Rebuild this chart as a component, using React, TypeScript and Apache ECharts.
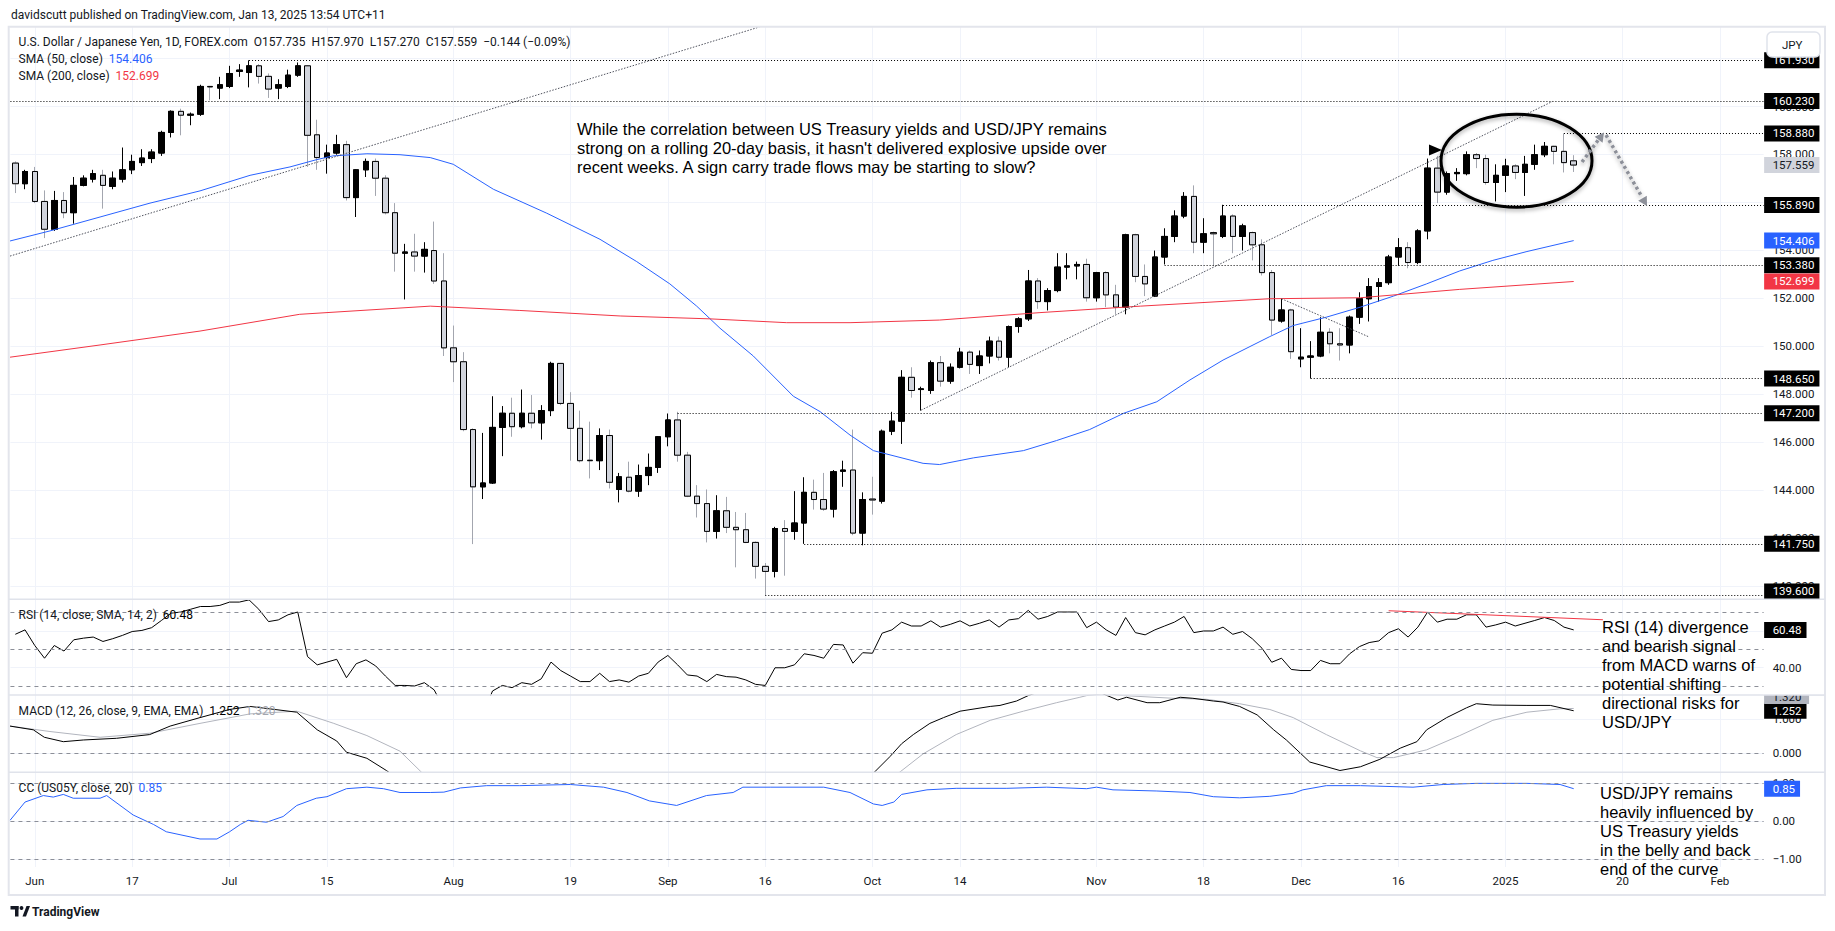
import React, { useEffect, useRef } from 'react';
import * as echarts from 'echarts';

// ---------- data ----------
const X_MIN = -0.5;
const X_MAX = 179.5;

const timeLabelIndex = [2, 12, 22, 32, 45, 57, 67, 77, 88, 97, 111, 122, 132, 142, 153, 165, 175];
const timeLabelText = ['Jun', '17', 'Jul', '15', 'Aug', '19', 'Sep', '16', 'Oct', '14', 'Nov', '18', 'Dec', '16', '2025', '20', 'Feb'];

const priceTicks = [140, 142, 144, 146, 148, 150, 152, 154, 156, 158, 160, 162];
const priceTickLabels = [140, 142, 144, 146, 148, 150, 152, 154, 158, 160];
const rsiTicks = [40, 60];
const rsiTickLabels = [40];
const macdTicks = [0, 1];
const ccTicks = [-1, 0, 1];

const opens = [157.64,156.78,157.29,156.04,154.88,156.08,155.57,156.71,156.97,157.13,156.67,156.97,157.36,157.66,157.83,158.06,158.92,159.80,159.64,159.68,160.84,160.77,160.84,161.47,161.42,161.70,161.26,160.77,160.84,161.31,161.70,158.82,157.87,158.06,158.41,156.20,157.36,157.71,157.01,155.57,153.88,153.93,153.76,153.99,152.72,149.93,149.35,146.52,144.13,144.29,146.61,147.20,146.64,147.20,146.80,147.31,149.28,147.61,146.57,145.24,145.22,146.27,144.02,144.53,143.95,144.60,144.94,146.22,146.92,145.45,143.74,143.43,142.27,143.13,142.44,142.34,141.81,140.81,140.60,142.39,142.27,142.62,143.90,143.60,143.20,144.78,144.83,142.20,143.62,143.53,146.45,146.87,148.70,148.19,148.15,149.31,148.54,149.12,149.75,149.19,149.59,150.21,149.54,150.82,151.14,152.72,151.86,152.32,153.30,153.35,153.41,152.02,153.07,152.14,151.63,154.65,152.91,152.09,153.72,154.58,155.43,156.25,154.34,154.74,154.58,155.43,154.58,154.74,154.23,153.07,151.05,151.51,149.47,149.54,149.59,150.58,150.10,150.05,151.21,151.98,152.49,152.65,153.72,154.11,153.49,154.81,157.43,156.43,157.20,157.20,157.99,157.83,156.83,157.13,157.52,157.25,157.59,157.99,158.34,158.13,157.735];
const highs = [157.71,157.36,157.48,156.50,156.48,156.43,157.06,157.13,157.36,157.36,157.29,158.29,157.99,158.22,158.22,158.99,159.84,159.91,159.75,160.91,160.86,161.24,161.70,161.77,161.93,161.77,161.38,161.14,161.54,161.84,161.72,159.45,158.41,158.82,158.57,157.38,157.83,157.83,157.13,155.97,154.27,154.69,154.34,155.20,153.88,150.86,149.75,146.57,146.38,147.91,147.50,147.85,148.19,147.96,147.54,149.35,149.30,148.08,147.31,146.85,146.57,146.52,144.71,145.18,145.06,145.52,146.25,147.19,147.26,145.59,144.20,144.02,143.78,143.71,143.08,143.04,141.85,140.95,142.46,142.74,143.95,144.53,144.43,144.71,144.83,145.22,146.52,143.90,144.55,146.52,147.26,149.00,149.12,148.31,149.40,149.59,149.28,149.93,149.82,149.82,150.40,150.40,150.86,151.21,153.18,152.84,152.42,153.88,153.88,153.53,153.65,153.10,153.12,152.56,154.69,154.69,153.41,153.99,154.92,155.67,156.43,156.71,155.34,154.78,155.90,155.50,155.11,154.78,154.46,153.18,151.98,151.56,150.75,150.21,151.21,150.75,150.75,151.28,152.25,152.84,152.84,153.81,154.51,154.34,154.88,157.83,157.94,157.29,157.43,158.13,158.06,157.99,157.59,157.82,157.59,157.94,158.41,158.52,158.36,158.88,157.970];
const lows = [156.39,156.55,155.97,154.51,154.81,155.34,155.11,156.67,156.83,155.74,156.55,156.83,157.18,157.52,157.64,157.94,158.71,158.80,159.22,159.61,160.26,160.31,160.77,161.24,160.80,160.96,160.36,160.31,160.77,161.24,157.48,157.36,157.20,157.99,156.08,155.39,157.06,156.27,155.50,153.11,151.95,153.11,153.07,152.60,149.59,148.50,146.45,141.74,143.62,144.25,145.41,146.22,146.57,146.57,146.10,147.08,147.54,145.22,145.15,144.48,144.83,144.06,143.48,143.90,143.71,144.20,144.71,145.82,145.18,143.70,142.85,141.81,141.97,142.20,140.77,141.78,140.30,139.60,140.35,140.42,141.92,141.75,143.18,143.13,142.85,144.13,142.11,141.69,142.97,143.43,146.29,145.92,147.85,147.31,148.01,148.31,148.43,149.07,148.84,148.84,149.28,149.40,149.12,150.56,151.05,151.56,151.49,152.25,152.79,152.79,151.86,151.86,151.63,151.33,151.33,152.67,152.09,152.05,153.41,154.34,155.34,153.88,153.88,153.35,154.51,153.88,153.99,153.58,152.95,150.47,150.98,149.47,149.12,148.65,149.54,149.70,149.40,149.70,150.93,151.03,151.86,152.56,153.35,153.25,153.42,154.46,155.97,156.32,156.90,157.13,157.43,156.74,156.04,156.43,156.97,156.27,157.36,157.89,157.59,157.25,157.270];
const closes = [156.78,157.29,156.04,154.88,156.08,155.57,156.71,157.01,157.20,156.71,157.01,157.36,157.71,157.85,158.10,158.92,159.80,159.64,159.68,160.84,160.82,160.91,161.38,161.52,161.70,161.26,160.73,160.91,161.31,161.70,158.80,157.87,158.06,158.41,156.20,157.36,157.71,157.01,155.57,153.88,153.93,153.76,154.04,152.72,149.93,149.35,146.52,144.13,144.29,146.61,147.20,146.64,147.20,146.80,147.31,149.28,147.61,146.57,145.22,145.22,146.27,144.32,144.55,143.95,144.60,144.94,146.22,146.92,145.45,143.74,143.43,142.27,143.13,142.44,142.34,141.81,140.81,140.60,142.39,142.27,142.62,143.90,143.60,143.20,144.76,144.83,142.20,143.60,143.58,146.45,146.87,148.70,148.15,148.22,149.31,148.54,149.12,149.75,149.24,149.59,150.21,149.54,150.82,151.14,152.72,151.86,152.32,153.30,153.35,153.41,152.02,153.07,152.14,151.63,154.65,152.91,152.60,153.72,154.58,155.43,156.25,154.34,154.69,154.69,155.43,154.58,155.02,154.23,153.07,151.09,151.51,149.77,149.54,149.59,150.58,150.10,150.05,151.21,151.98,152.49,152.65,153.72,154.11,153.49,154.81,157.43,156.43,157.20,157.25,157.99,157.83,156.83,157.13,157.52,157.25,157.59,157.99,158.34,158.13,157.66,157.559];

const sma50Points = [[-0.54,154.39],[3.56,154.81],[8.7,155.39],[13.83,155.97],[18.96,156.48],[24.1,157.13],[28.2,157.48],[30.9,157.78],[32.6,157.94],[36.1,158.03],[39.5,157.99],[42.6,157.87],[44.97,157.59],[49.08,156.55],[54.56,155.55],[60.03,154.46],[63.8,153.53],[67.2,152.6],[69.96,151.67],[72.35,150.75],[75.77,149.59],[79.88,147.91],[82.62,147.27],[85.7,146.29],[88.1,145.64],[93.2,145.11],[94.9,145.06],[98.4,145.34],[103.5,145.64],[106.9,146.06],[110.3,146.52],[113.8,147.2],[117.2,147.68],[120.6,148.59],[124,149.42],[128.8,150.4],[131.2,150.86],[134.6,151.21],[138.1,151.63],[141.5,152.09],[144.9,152.6],[148.3,153.14],[151.7,153.58],[155.2,153.95],[160,154.406]];
const sma200Points = [[-0.54,149.54],[8.7,150.05],[18.96,150.63],[29.2,151.33],[42.6,151.67],[51.8,151.49],[62.1,151.26],[71.3,151.14],[79.2,150.98],[85.7,150.98],[94.9,151.09],[105.2,151.4],[115.5,151.67],[128.8,151.98],[138.1,152.02],[148.3,152.37],[160,152.699]];

const rsiValues = [58.1,60.5,52.0,45.1,52.0,49.0,55.1,56.0,56.6,54.2,55.7,57.5,59.6,60.2,61.7,65.6,69.6,70.2,71.7,73.2,73.2,73.8,75.6,75.6,76.8,71.7,65.0,65.9,68.7,70.2,46.0,41.5,43.0,44.5,34.5,42.1,44.2,40.9,35.4,30.3,30.3,30.0,31.8,27.9,18,17,14,12,15,27.3,30.3,29.1,31.8,30.9,33.9,43.0,38.4,35.4,32.4,32.4,36.9,32.4,33.3,32.1,35.4,36.9,43.0,46.6,41.5,36.0,35.4,32.4,36.3,35.1,34.8,33.3,30.9,30.3,39.9,39.9,41.5,47.5,46.6,45.1,52.6,52.3,42.4,48.1,47.8,58.7,60.5,64.7,62.6,62.6,65.4,62.0,63.5,65.4,62.6,64.1,65.9,62.0,65.9,66.6,71.1,66.3,67.8,70.2,70.2,70.2,61.7,64.7,60.5,57.5,67.2,59.0,57.8,60.5,62.6,64.7,67.8,59.0,59.9,59.9,62.0,58.1,59.6,55.7,50.5,42.9,45.1,39.0,38.4,38.4,43.9,42.1,42.1,47.5,51.4,53.6,54.5,59.0,61.1,56.6,62.0,70.2,64.7,66.3,66.3,68.7,68.7,62.0,63.2,64.7,62.6,64.1,65.6,67.2,65.6,62.0,60.48];
const rsiDivergence = [[141, 70.9], [163, 66.0]];

const macdPoints = [[-0.54,0.8],[1.85,0.69],[2.98,0.47],[4.93,0.34],[6.98,0.39],[10.4,0.44],[13.8,0.55],[15.9,0.8],[18.96,1.05],[22,1.29],[24.1,1.38],[25.8,1.32],[28.9,1.21],[31,0.69],[33,0.36],[34,0.03],[36.1,-0.15],[38.1,-0.51],[40,-0.9],[44,-1.6],[48,-2.2],[55,-2.0],[65,-1.6],[75,-1.4],[82,-1.2],[86,-0.85],[88.2,-0.56],[89.8,-0.1],[91,0.28],[92.2,0.55],[93.9,0.88],[95.3,1.05],[97,1.24],[100.1,1.38],[101.1,1.41],[102.8,1.54],[104,1.7],[106,1.9],[110,1.95],[112.1,1.7],[113.2,1.57],[114.1,1.65],[116.2,1.49],[117.5,1.49],[119.6,1.65],[120.9,1.62],[123,1.54],[124,1.51],[125.7,1.38],[127.5,1.13],[129.2,0.69],[130.5,0.39],[132.9,-0.26],[136,-0.51],[138.1,-0.4],[140.1,-0.18],[142.2,0.15],[143.9,0.34],[144.9,0.69],[146.96,1.05],[149,1.34],[150,1.46],[151.7,1.42],[155.2,1.41],[157.6,1.41],[160,1.252]];
const signalPoints = [[-0.54,0.8],[3.56,0.64],[8.7,0.47],[13.83,0.59],[18.96,0.88],[24.1,1.16],[28.9,1.24],[32.7,0.88],[36.1,0.52],[39.5,0.06],[41.7,-0.56],[45,-1.0],[52,-1.6],[60,-1.8],[70,-1.6],[80,-1.3],[87,-0.95],[90.8,-0.56],[93.2,-0.02],[96.6,0.55],[100.1,0.97],[103.5,1.24],[106.9,1.49],[109.3,1.65],[110,1.7],[112,1.76],[113.8,1.7],[118.9,1.62],[122.3,1.59],[125.7,1.46],[128.8,1.29],[131.2,1.05],[134.6,0.55],[138.1,0.07],[139.8,-0.13],[141.5,-0.13],[144.9,0.1],[148.3,0.52],[151.7,0.97],[155.2,1.21],[158.6,1.31],[160,1.32]];
const ccPoints = [[-0.54,0.02],[1,0.5],[2.88,0.67],[3.9,0.63],[4.93,0.7],[5.95,0.6],[8.7,0.6],[9.38,0.67],[12.1,0.16],[14.2,-0.09],[15.5,-0.28],[18.96,-0.47],[20.7,-0.47],[22,-0.28],[23.1,-0.09],[23.9,0.02],[25.8,-0.03],[27.5,0.12],[28.9,0.41],[30.9,0.6],[32,0.64],[34,0.85],[36.1,0.89],[37.8,0.85],[39.5,0.75],[42.6,0.75],[44,0.76],[45.7,0.87],[48.4,0.93],[51.8,0.93],[57,0.96],[60.4,0.89],[62.8,0.75],[65.1,0.53],[67.9,0.41],[70.96,0.67],[73.7,0.75],[74.7,0.89],[77.5,0.89],[83,0.89],[85.7,0.75],[88.1,0.45],[89,0.41],[90.2,0.5],[91,0.7],[93.6,0.82],[96.6,0.86],[101.8,0.86],[105.9,0.89],[110,0.85],[111,0.89],[112.7,0.82],[117.2,0.79],[120.6,0.75],[123,0.64],[125.7,0.61],[128.8,0.65],[131.2,0.73],[132.2,0.82],[134.6,0.93],[138.1,0.93],[143.5,0.89],[146.6,0.96],[150,0.99],[155.2,0.99],[158.6,0.96],[160,0.85]];

const levelPrices = [161.93, 160.23, 158.88, 155.89, 153.38, 148.65, 147.2, 141.75, 139.6];
const levelStarts = [24, -0.5, 159, 124, 118, 133, 68, 81, 77];

const trendLineA = [[-0.54, 153.76], [76.4, 163.32]];
const trendLineB = [[93, 147.33], [157.8, 160.21]];
const trendLineC = [[130, 151.98], [138.9, 150.4]];

// ---------- style ----------
const UI_FONT = 'Roboto, "Noto Sans", Arial, sans-serif';
const ANNO_FONT = '"Liberation Sans", Arial, Helvetica, sans-serif';
const TEXT = '#131722';
const GRIDC = '#f0f3fa';
const DASH = '#8c8f98';
const BLUE = '#2962ff';
const RED = '#f23645';
const LEFT = 10.43;
const WIDTH = 1753.2;

const panes = [
  { top: 27, height: 572.2 },
  { top: 599.2, height: 95.7 },
  { top: 694.9, height: 77.3 },
  { top: 772.2, height: 94.8 },
];

function boxLabel(text: string, bg: string, fg = '#ffffff') {
  return {
    show: true, position: 'end', formatter: text, color: fg, backgroundColor: bg,
    padding: [2, 5, 2, 8.5], fontSize: 11.5, fontFamily: UI_FONT, lineHeight: 12, distance: 0.5,
  };
}
function tagLine(value: number, text: string, bg: string, fg = '#ffffff') {
  return [
    { coord: [X_MAX - 1, value], lineStyle: { color: 'rgba(255,255,255,0)', width: 1, type: 'solid' }, label: boxLabel(text, bg, fg) },
    { coord: [X_MAX, value] },
  ];
}

function buildOption() {
  const candleFull = opens.map((o, i) => [i, o, closes[i], lows[i], highs[i]]);
  const candleBody = opens.map((o, i) => [i, o, closes[i], Math.min(o, closes[i]), Math.max(o, closes[i])]);

  const levelLines: any[] = levelPrices.map((p, k) => [
    {
      coord: [levelStarts[k], p],
      lineStyle: { color: '#000', type: [1, 2], width: 1 },
      label: p === 139.6 ? { show: false } : boxLabel(p.toFixed(3), '#000'),
    },
    { coord: [X_MAX, p] },
  ]);
  levelLines.push(tagLine(139.765, '139.600', '#000'));
  levelLines.push(tagLine(closes[closes.length - 1], '157.559', '#d1d4dc', TEXT));
  levelLines.push(tagLine(154.406, '154.406', BLUE));
  levelLines.push(tagLine(152.699, '152.699', RED));

  const xAxis = panes.map((_, g) => ({
    type: 'value', gridIndex: g, min: X_MIN, max: X_MAX,
    axisLine: { show: false },
    axisTick: { show: false, customValues: timeLabelIndex },
    splitLine: { show: true, lineStyle: { color: GRIDC, width: 1 } },
    axisLabel: g === 3
      ? {
          show: true, customValues: timeLabelIndex,
          formatter: (v: number) => timeLabelText[timeLabelIndex.indexOf(Math.round(v))] || '',
          color: TEXT, fontSize: 11.5, fontFamily: UI_FONT, margin: 8,
        }
      : { show: false, customValues: timeLabelIndex },
  }));

  const yDef = (g: number, min: number, max: number, ticks: number[], labels: number[], fmt: (v: number) => string) => ({
    type: 'value', gridIndex: g, position: 'right', min, max,
    axisLine: { show: false },
    axisTick: { show: false, customValues: ticks },
    splitLine: { show: true, lineStyle: { color: GRIDC, width: 1 } },
    axisLabel: { show: true, customValues: labels, formatter: fmt, color: TEXT, fontSize: 11.5, fontFamily: UI_FONT, margin: 9 },
  });
  const minus = (s: string) => s.replace('-', '\u2212');

  const dashed = {
    silent: true, symbol: 'none', animation: false,
    label: { show: false },
    lineStyle: { color: DASH, type: [4, 4], width: 1 },
  };

  const lineSeries = (name: string, x: number, data: number[][], color: string, extra: any = {}) => ({
    type: 'line', name, xAxisIndex: x, yAxisIndex: x, data, showSymbol: false, symbol: 'none',
    silent: true, animation: false, lineStyle: { color, width: 1 }, z: 3, ...extra,
  });
  const dotted = { lineStyle: { color: '#50535e', width: 1, type: [1.5, 1.5] } };

  return {
    animation: false,
    backgroundColor: '#ffffff',
    grid: panes.map((p) => ({ left: LEFT, width: WIDTH, top: p.top, height: p.height, outerBoundsMode: 'none', containLabel: false })),
    xAxis,
    yAxis: [
      yDef(0, 139.44, 163.32, priceTicks, priceTickLabels, (v) => v.toFixed(3)),
      yDef(1, 25.16, 77.17, rsiTicks, rsiTickLabels, (v) => v.toFixed(2)),
      yDef(2, -0.56, 1.72, macdTicks, macdTicks, (v) => minus(v.toFixed(3))),
      yDef(3, -1.205, 1.283, ccTicks, ccTicks, (v) => minus(v.toFixed(2))),
    ],
    series: [
      {
        type: 'candlestick', name: 'wicks', xAxisIndex: 0, yAxisIndex: 0, data: candleFull, barWidth: 6,
        silent: true, animation: false,
        itemStyle: { color: 'rgba(0,0,0,0)', color0: 'rgba(0,0,0,0)', borderColor: '#000000', borderColor0: '#a3a6af', borderWidth: 1 },
      },
      {
        type: 'candlestick', name: 'USDJPY', xAxisIndex: 0, yAxisIndex: 0, data: candleBody, barWidth: 6,
        silent: true, animation: false,
        itemStyle: { color: '#000000', color0: '#d1d4dc', borderColor: '#000000', borderColor0: '#000000', borderWidth: 1 },
        markLine: { silent: true, symbol: 'none', animation: false, data: levelLines },
      },
      lineSeries('SMA50', 0, sma50Points, BLUE),
      lineSeries('SMA200', 0, sma200Points, RED),
      lineSeries('trendA', 0, trendLineA, '#50535e', dotted),
      lineSeries('trendB', 0, trendLineB, '#50535e', dotted),
      lineSeries('trendC', 0, trendLineC, '#50535e', dotted),
      lineSeries('RSI', 1, rsiValues.map((v, i) => [i, v]), '#000000', {
        markLine: { ...dashed, data: [{ yAxis: 70 }, { yAxis: 50 }, { yAxis: 30 }, tagLine(60.48, '60.48', '#000')] },
      }),
      lineSeries('RSIdiv', 1, rsiDivergence, RED),
      lineSeries('Signal', 2, signalPoints, '#b2b5be'),
      lineSeries('MACD', 2, macdPoints, '#000000', {
        markLine: { ...dashed, data: [{ yAxis: 0 }, tagLine(1.252, '1.252', '#000')] },
      }),
      lineSeries('CC', 3, ccPoints, BLUE, {
        markLine: { ...dashed, data: [{ yAxis: 1 }, { yAxis: 0 }, { yAxis: -1 }, tagLine(0.85, '0.85', BLUE)] },
      }),
    ],
    graphic: buildGraphics(),
  };
}

function txt(x: number, y: number, text: string, size: number, fill = TEXT, family = UI_FONT, extra: any = {}, z = 100) {
  return {
    type: 'text', x, y, z, silent: true,
    style: { text, fill, fontSize: size, fontFamily: family, align: 'left', verticalAlign: 'middle', textAlign: 'left', textVerticalAlign: 'middle', ...extra },
  };
}
function rich(x: number, y: number, text: string, richDef: any) {
  return {
    type: 'text', x, y, z: 100, silent: true,
    style: { text, rich: richDef, fontSize: 12, fontFamily: UI_FONT, fill: TEXT, align: 'left', verticalAlign: 'middle', textAlign: 'left', textVerticalAlign: 'middle' },
  };
}
const rs = (fill: string) => ({ fill, fontSize: 12, fontFamily: UI_FONT });

function buildGraphics() {
  const shadow = { shadowBlur: 4, shadowColor: 'rgba(0,0,0,0.35)', shadowOffsetY: 2 };
  const grayArrow = { stroke: '#8d9099', lineWidth: 3.5, lineDash: [3, 3], ...shadow };
  const top = { verticalAlign: 'top', textVerticalAlign: 'top', lineHeight: 19 };
  const els: any[] = [
    { type: 'rect', z: 90, silent: true, shape: { x: 8.7, y: 26.7, width: 1816.3, height: 868.3 }, style: { fill: 'none', stroke: '#e3e5ec', lineWidth: 2 } },
    ...[599.2, 694.9, 772.2].map((y) => ({ type: 'line', z: 90, silent: true, shape: { x1: 8.7, y1: y, x2: 1825, y2: y }, style: { stroke: '#e0e3eb', lineWidth: 1.5 } })),
    txt(11, 15, 'davidscutt published on TradingView.com, Jan 13, 2025 13:54 UTC+11', 12),
    txt(18.6, 42.3, 'U.S. Dollar / Japanese Yen, 1D, FOREX.com  O157.735  H157.970  L157.270  C157.559  \u22120.144 (\u22120.09%)', 12),
    rich(18.6, 59.3, '{a|SMA (50, close)}  {b|154.406}', { a: rs(TEXT), b: rs(BLUE) }),
    rich(18.6, 76, '{a|SMA (200, close)}  {b|152.699}', { a: rs(TEXT), b: rs(RED) }),
    rich(18.6, 614.8, '{a|RSI (14, close, SMA, 14, 2)}  {b|60.48}', { a: rs(TEXT), b: rs('#000') }),
    rich(18.6, 711, '{a|MACD (12, 26, close, 9, EMA, EMA)}  {b|1.252}  {c|1.320}', { a: rs(TEXT), b: rs('#000'), c: rs('#a3a6af') }),
    rich(18.6, 788, '{a|CC (US05Y, close, 20)}  {b|0.85}', { a: rs(TEXT), b: rs(BLUE) }),
    // annotation texts
    txt(577, 119.7, 'While the correlation between US Treasury yields and USD/JPY remains\nstrong on a rolling 20-day basis, it hasn\'t delivered explosive upside over\nrecent weeks. A sign carry trade flows may be starting to slow?', 16.5, '#000', ANNO_FONT, top),
    txt(1602, 617.2, 'RSI (14) divergence\nand bearish signal\nfrom MACD warns of\npotential shifting\ndirectional risks for\nUSD/JPY', 16.5, '#000', ANNO_FONT, top),
    txt(1600, 783.8, 'USD/JPY remains\nheavily influenced by\nUS Treasury yields\nin the belly and back\nend of the curve', 16.5, '#000', ANNO_FONT, top),
    // black arrow
    { type: 'line', z: 95, silent: true, shape: { x1: 1115, y1: 150, x2: 1432, y2: 150 }, style: { stroke: '#000', lineWidth: 3, ...shadow } },
    { type: 'polygon', z: 95, silent: true, shape: { points: [[1442, 150], [1429, 144.5], [1429, 155.5]] }, style: { fill: '#000' } },
    // ellipse
    { type: 'ellipse', z: 95, silent: true, shape: { cx: 1516.5, cy: 160.7, rx: 75.5, ry: 46.5 }, style: { fill: 'none', stroke: '#000', lineWidth: 3, ...shadow } },
    // gray dotted arrows
    { type: 'line', z: 95, silent: true, shape: { x1: 1582, y1: 162, x2: 1599, y2: 139 }, style: grayArrow },
    { type: 'polygon', z: 95, silent: true, shape: { points: [[1604, 132.5], [1602.6, 142.7], [1594.6, 136.7]] }, style: { fill: '#8d9099' } },
    { type: 'line', z: 95, silent: true, shape: { x1: 1606, y1: 135, x2: 1642, y2: 197 }, style: grayArrow },
    { type: 'polygon', z: 95, silent: true, shape: { points: [[1647, 206], [1646.8, 195.7], [1638.2, 200.7]] }, style: { fill: '#8d9099' } },
    // MACD signal tag, partly hidden at the pane top
    { type: 'rect', z: 96, silent: true, shape: { x: 1764.1, y: 688, width: 45, height: 16 }, style: { fill: '#b2b5be' } },
    txt(1772.6, 696.5, '1.320', 11.5, TEXT, UI_FONT, {}, 97),
    { type: 'rect', z: 98, silent: true, shape: { x: 1763.8, y: 684, width: 60, height: 10.9 }, style: { fill: '#ffffff' } },
    { type: 'line', z: 99, silent: true, shape: { x1: 1763.8, y1: 694.9, x2: 1825, y2: 694.9 }, style: { stroke: '#e0e3eb', lineWidth: 1.5 } },
    // JPY box
    { type: 'rect', z: 100, silent: true, shape: { x: 1767, y: 32, width: 53, height: 25, r: 5 }, style: { fill: '#ffffff', stroke: '#e0e3eb', lineWidth: 1.5 } },
    txt(1782, 44.5, 'JPY', 11.5, TEXT, UI_FONT, {}, 101),
    // TradingView logo
    { type: 'rect', z: 100, silent: true, shape: { x: 10.5, y: 906, width: 8, height: 3.5 }, style: { fill: TEXT } },
    { type: 'rect', z: 100, silent: true, shape: { x: 15, y: 906, width: 3.5, height: 10.5 }, style: { fill: TEXT } },
    { type: 'circle', z: 100, silent: true, shape: { cx: 21.5, cy: 908, r: 1.9 }, style: { fill: TEXT } },
    { type: 'polygon', z: 100, silent: true, shape: { points: [[22.5, 916.5], [26.5, 906], [30, 906], [26, 916.5]] }, style: { fill: TEXT } },
    txt(32, 911.5, 'TradingView', 12, TEXT, UI_FONT, { fontWeight: 'bold' }),
  ];
  return { elements: els };
}

export default function App() {
  const ref = useRef<HTMLDivElement>(null);
  useEffect(() => {
    if (!ref.current) return;
    const chart = echarts.init(ref.current, null, { renderer: 'svg' });
    chart.setOption(buildOption() as any);
    return () => chart.dispose();
  }, []);
  return <div ref={ref} style={{ position: 'absolute', left: 0, top: 0, width: 1835, height: 931, background: '#fff' }} />;
}
